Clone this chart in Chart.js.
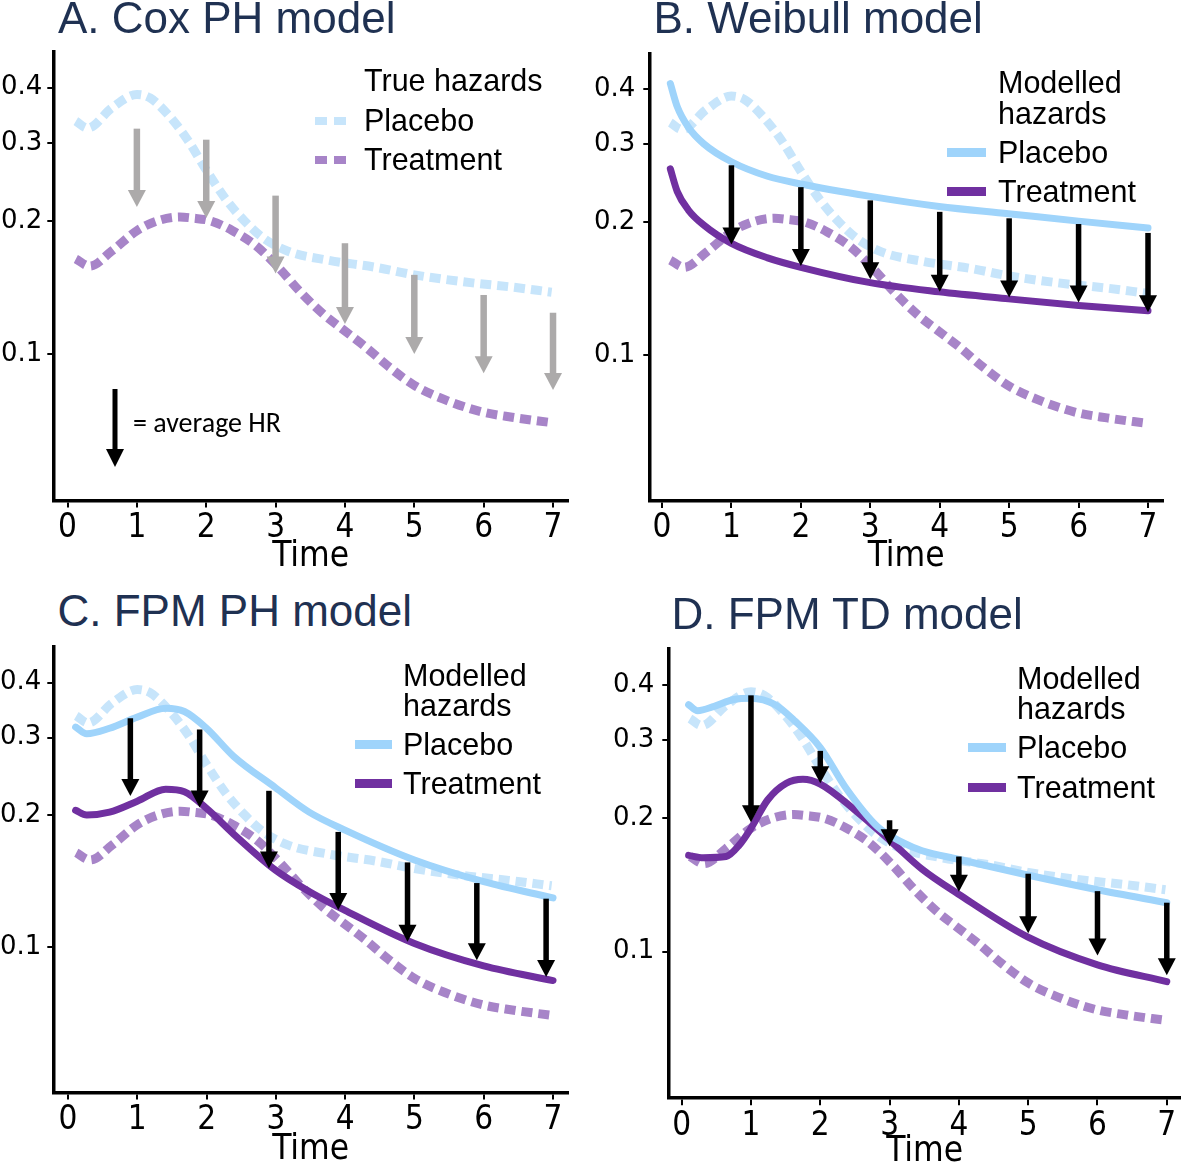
<!DOCTYPE html>
<html><head><meta charset="utf-8">
<script src="https://cdn.jsdelivr.net/npm/chart.js@4.4.1/dist/chart.umd.min.js"></script>
<style>
html,body{margin:0;padding:0;background:#fff;}
#root{position:relative;width:1181px;height:1166px;overflow:hidden;background:#fff;}
canvas{position:absolute;}
.t{position:absolute;white-space:nowrap;line-height:1;font-family:'Liberation Sans',Arial,sans-serif;color:#000;}
.title{font-size:44px;color:#1f3152;}
.lg{font-size:30.5px;}
.sw{position:absolute;}
.dp{background:#c7e5fb;width:12px;height:8px;}
.dt{background:#a784c8;width:12px;height:8px;}
.sp{background:#9fd4fb;height:9px;}
.st{background:#7030a0;height:9px;}
.hr{position:absolute;white-space:nowrap;line-height:1;font-family:Carlito,Calibri,Lato,sans-serif;font-size:28px;color:#000;}
</style></head><body>
<div id="root">
<canvas id="cA"></canvas><canvas id="cB"></canvas><canvas id="cC"></canvas><canvas id="cD"></canvas>

<div class="t title" style="left:58px;top:-4.2px">A. Cox PH model</div>
<div class="t title" style="left:653.5px;top:-4.2px">B. Weibull model</div>
<div class="t title" style="left:57.5px;top:588.8px">C. FPM PH model</div>
<div class="t title" style="left:671.5px;top:591.8px">D. FPM TD model</div>

<div class="t lg" style="left:364px;top:65.2px">True hazards</div>
<div class="sw dp" style="left:315px;top:117px"></div><div class="sw dp" style="left:334px;top:117px"></div>
<div class="t lg" style="left:364px;top:105.2px">Placebo</div>
<div class="sw dt" style="left:315px;top:156px"></div><div class="sw dt" style="left:334px;top:156px"></div>
<div class="t lg" style="left:364px;top:144.2px">Treatment</div>
<svg style="position:absolute;left:100px;top:385px" width="30" height="90"><rect x="12.5" y="4" width="5" height="62" fill="#000"/><polygon points="6,64 24,64 15,82" fill="#000"/></svg>
<div class="hr" style="left:133px;top:409px">= average HR</div>

<div class="t lg" style="left:998px;top:67.2px">Modelled</div>
<div class="t lg" style="left:998px;top:98.2px">hazards</div>
<div class="sw sp" style="left:947px;top:148px;width:39px"></div>
<div class="t lg" style="left:998px;top:137.2px">Placebo</div>
<div class="sw st" style="left:947px;top:187px;width:39px"></div>
<div class="t lg" style="left:998px;top:176.2px">Treatment</div>

<div class="t lg" style="left:403px;top:660.2px">Modelled</div>
<div class="t lg" style="left:403px;top:690.2px">hazards</div>
<div class="sw sp" style="left:355px;top:740px;width:37px"></div>
<div class="t lg" style="left:403px;top:729.2px">Placebo</div>
<div class="sw st" style="left:355px;top:779px;width:37px"></div>
<div class="t lg" style="left:403px;top:768.2px">Treatment</div>

<div class="t lg" style="left:1017px;top:663.2px">Modelled</div>
<div class="t lg" style="left:1017px;top:693.2px">hazards</div>
<div class="sw sp" style="left:968px;top:743px;width:38px"></div>
<div class="t lg" style="left:1017px;top:732.2px">Placebo</div>
<div class="sw st" style="left:968px;top:783px;width:38px"></div>
<div class="t lg" style="left:1017px;top:772.2px">Treatment</div>
</div>
<script>
// ---------- DATA ----------
const timeTicks = [0, 1, 2, 3, 4, 5, 6, 7];
const hazardTicks = [0.1, 0.2, 0.3, 0.4];
const hazardTickLabels = ['0.1', '0.2', '0.3', '0.4'];

// True hazards (dashed, shown in every panel)
const truePlaceboTime = [0.12, 0.29, 0.64, 1.0, 1.19, 1.46, 1.73, 1.99, 2.28, 2.55, 2.82, 3.17, 3.75, 4.45, 5.0, 5.81, 6.36, 6.98];
const truePlaceboHazard = [0.336, 0.324, 0.360, 0.386, 0.379, 0.346, 0.305, 0.262, 0.224, 0.200, 0.183, 0.171, 0.163, 0.157, 0.151, 0.145, 0.142, 0.138];
const trueTreatmentTime = [0.12, 0.32, 0.64, 1.0, 1.30, 1.62, 1.79, 2.06, 2.38, 2.71, 3.04, 3.36, 3.69, 3.96, 4.29, 4.62, 5.0, 5.43, 5.98, 6.41, 6.98];
const trueTreatmentHazard = [0.164, 0.158, 0.171, 0.190, 0.200, 0.204, 0.203, 0.200, 0.190, 0.176, 0.157, 0.138, 0.123, 0.114, 0.104, 0.094, 0.085, 0.079, 0.074, 0.072, 0.070];

// B. Weibull model
const weibullTime = [0.12, 0.22, 0.38, 0.6, 1.0, 1.52, 2.0, 2.98, 3.99, 4.99, 6.0, 7.0];
const weibullPlacebo = [0.412, 0.365, 0.328, 0.301, 0.274, 0.254, 0.244, 0.229, 0.217, 0.209, 0.201, 0.194];
const weibullTreatment = [0.264, 0.2345, 0.213, 0.197, 0.179, 0.166, 0.158, 0.146, 0.139, 0.134, 0.1295, 0.126];

// C. FPM PH model
const fpmPhTime = [0.11, 0.27, 0.6, 1.0, 1.41, 1.68, 2.0, 2.39, 2.99, 3.48, 3.99, 5.0, 6.0, 7.0];
const fpmPhPlacebo = [0.317, 0.306, 0.315, 0.334, 0.350, 0.344, 0.315, 0.272, 0.231, 0.203, 0.185, 0.158, 0.141, 0.1295];
const fpmPhTreatment = [0.205, 0.200, 0.203, 0.215, 0.229, 0.226, 0.207, 0.181, 0.150, 0.134, 0.1215, 0.102, 0.0907, 0.084];

// D. FPM TD model
const fpmTdPlaceboTime = [0.10, 0.23, 0.47, 0.75, 1.0, 1.35, 1.64, 2.0, 2.38, 2.82, 3.2, 3.47, 3.99, 4.99, 6.0, 7.0];
const fpmTdPlacebo = [0.361, 0.350, 0.358, 0.371, 0.3735, 0.361, 0.331, 0.289, 0.233, 0.192, 0.176, 0.169, 0.1617, 0.149, 0.138, 0.129];
const fpmTdTreatmentTime = [0.10, 0.31, 0.64, 0.83, 1.0, 1.24, 1.51, 1.75, 2.0, 2.49, 3.01, 3.47, 3.99, 4.99, 6.0, 7.0];
const fpmTdTreatment = [0.165, 0.163, 0.164, 0.174, 0.190, 0.220, 0.240, 0.245, 0.239, 0.2095, 0.178, 0.1535, 0.135, 0.108, 0.0934, 0.0856];

// Hazard-ratio arrows (time, start hazard, end hazard)
const arrowsATime = [1, 2, 3, 4, 5, 6, 7];
const arrowsAFrom = [0.323, 0.305, 0.228, 0.178, 0.151, 0.136, 0.124];
const arrowsATo = [0.215, 0.203, 0.152, 0.117, 0.100, 0.0905, 0.083];
const arrowsBTime = [1, 2, 3, 4, 5, 6, 7];
const arrowsBFrom = [0.269, 0.240, 0.224, 0.211, 0.204, 0.198, 0.189];
const arrowsBTo = [0.178, 0.159, 0.1485, 0.139, 0.135, 0.1315, 0.125];
const arrowsCTime = [0.9, 1.9, 2.9, 3.9, 4.9, 5.9, 6.9];
const arrowsCFrom = [0.332, 0.313, 0.227, 0.183, 0.156, 0.140, 0.129];
const arrowsCTo = [0.221, 0.208, 0.151, 0.1215, 0.103, 0.0934, 0.0856];
const arrowsDTime = [1, 2, 3, 4, 5, 6, 7];
const arrowsDFrom = [0.379, 0.284, 0.198, 0.164, 0.150, 0.137, 0.129];
const arrowsDTo = [0.196, 0.240, 0.173, 0.1365, 0.110, 0.098, 0.0885];

// ---------- STYLE ----------
const C_SOLID_P = '#9fd4fb', C_SOLID_T = '#7030a0', C_DASH_P = '#c7e5fb', C_DASH_T = '#a784c8';
const pts = (xs, ys) => xs.map((x, i) => ({x, y: ys[i]}));

function dashed(xs, ys, color) {
  return {data: pts(xs, ys), borderColor: color, borderWidth: 9, borderDash: [11, 6], borderCapStyle: 'butt',
    pointRadius: 0, cubicInterpolationMode: 'monotone', fill: false, order: 3};
}
function solid(xs, ys, color) {
  return {data: pts(xs, ys), borderColor: color, borderWidth: 7, borderCapStyle: 'round', borderJoinStyle: 'round',
    pointRadius: 0, cubicInterpolationMode: 'monotone', fill: false, order: 1};
}

const arrowPlugin = {
  id: 'hrArrows',
  afterDatasetsDraw(chart) {
    const a = chart.options.plugins.hrArrows;
    if (!a) return;
    const ctx = chart.ctx, xs = chart.scales.x, ys = chart.scales.y;
    ctx.save();
    ctx.fillStyle = a.color;
    a.time.forEach((t, i) => {
      const px = xs.getPixelForValue(t);
      const y1 = ys.getPixelForValue(a.from[i]);
      const y2 = ys.getPixelForValue(a.to[i]);
      const hl = 17, hw = 9, sw = a.shaft / 2;
      ctx.fillRect(px - sw, y1, sw * 2, Math.max(0, y2 - hl - y1 + 1));
      ctx.beginPath();
      ctx.moveTo(px - hw, y2 - hl);
      ctx.lineTo(px + hw, y2 - hl);
      ctx.lineTo(px, y2);
      ctx.closePath();
      ctx.fill();
    });
    ctx.restore();
  }
};

const YMIN = 0.0467, YMAX = 0.482;
const noPad = s => { s.paddingTop = 0; s.paddingBottom = 0; s.paddingLeft = 0; s.paddingRight = 0; };

function makeChart(id, L, datasets, arrows) {
  const cv = document.getElementById(id);
  cv.width = L.w; cv.height = L.h;
  cv.style.left = L.left + 'px'; cv.style.top = L.top + 'px';
  cv.style.width = L.w + 'px'; cv.style.height = L.h + 'px';
  return new Chart(cv, {
    type: 'line',
    data: {datasets},
    plugins: [arrowPlugin],
    options: {
      responsive: false, animation: false, devicePixelRatio: 1,
      layout: {padding: {left: 0, top: L.padTop, right: L.padRight, bottom: 0}},
      plugins: {legend: {display: false}, tooltip: {enabled: false}, title: {display: false}, hrArrows: arrows},
      scales: {
        x: {
          type: 'linear', min: L.xMin, max: L.xMax,
          afterBuildTicks: s => { s.ticks = timeTicks.map(v => ({value: v})); },
          afterFit: s => { s.height = L.xH; noPad(s); },
          grid: {drawOnChartArea: false, drawTicks: true, tickLength: 7, lineWidth: 2, color: '#000'},
          border: {display: true, width: 3.5, color: '#000'},
          ticks: {autoSkip: false, maxRotation: 0, padding: 1, color: '#000',
            font: {family: "'Liberation Sans Narrow','DejaVu Sans Condensed','Liberation Sans',Arial", size: 33},
            callback: v => String(v)},
          title: {display: true, text: 'Time', color: '#000', padding: {top: 0, bottom: 0},
            font: {family: "'Liberation Sans Narrow','DejaVu Sans Condensed','Liberation Sans',Arial", size: 35, lineHeight: 1.3}}
        },
        y: {
          type: 'logarithmic', min: YMIN, max: YMAX,
          afterBuildTicks: s => { s.ticks = hazardTicks.map(v => ({value: v})); },
          afterFit: s => { s.width = L.yW; noPad(s); },
          grid: {drawOnChartArea: false, drawTicks: true, tickLength: 6, lineWidth: 2, color: '#000'},
          border: {display: true, width: 3.5, color: '#000'},
          ticks: {autoSkip: false, padding: L.yPad, color: '#000',
            font: {family: "'DejaVu Sans','Liberation Sans',Arial", size: 26},
            callback: (v, i) => hazardTickLabels[i]}
        }
      }
    }
  });
}

const trueSets = () => [
  dashed(truePlaceboTime, truePlaceboHazard, C_DASH_P),
  dashed(trueTreatmentTime, trueTreatmentHazard, C_DASH_T)
];

makeChart('cA', {left: 0, top: 40, w: 590, h: 540, padTop: 11.7, padRight: 22, yW: 53.3, xH: 79.5, xMin: -0.205, xMax: 7.216, yPad: 5},
  trueSets(),
  {time: arrowsATime, from: arrowsAFrom, to: arrowsATo, color: '#acaaaa', shaft: 6.5});

makeChart('cB', {left: 590, top: 40, w: 591, h: 540, padTop: 13.5, padRight: 18, yW: 59.3, xH: 79.1, xMin: -0.183, xMax: 7.216, yPad: 8},
  [solid(weibullTime, weibullPlacebo, C_SOLID_P), solid(weibullTime, weibullTreatment, C_SOLID_T), ...trueSets()],
  {time: arrowsBTime, from: arrowsBFrom, to: arrowsBTo, color: '#000', shaft: 5.5});

makeChart('cC', {left: 0, top: 635, w: 590, h: 538, padTop: 12.1, padRight: 22, yW: 53.3, xH: 80.4, xMin: -0.212, xMax: 7.216, yPad: 6},
  [solid(fpmPhTime, fpmPhPlacebo, C_SOLID_P), solid(fpmPhTime, fpmPhTreatment, C_SOLID_T), ...trueSets()],
  {time: arrowsCTime, from: arrowsCFrom, to: arrowsCTo, color: '#000', shaft: 5.5});

makeChart('cD', {left: 600, top: 635, w: 581, h: 540, padTop: 14.1, padRight: 0, yW: 68.3, xH: 76.8, xMin: -0.193, xMax: 7.205, yPad: 8},
  [solid(fpmTdPlaceboTime, fpmTdPlacebo, C_SOLID_P), solid(fpmTdTreatmentTime, fpmTdTreatment, C_SOLID_T), ...trueSets()],
  {time: arrowsDTime, from: arrowsDFrom, to: arrowsDTo, color: '#000', shaft: 5.5});
</script>
</body></html>
